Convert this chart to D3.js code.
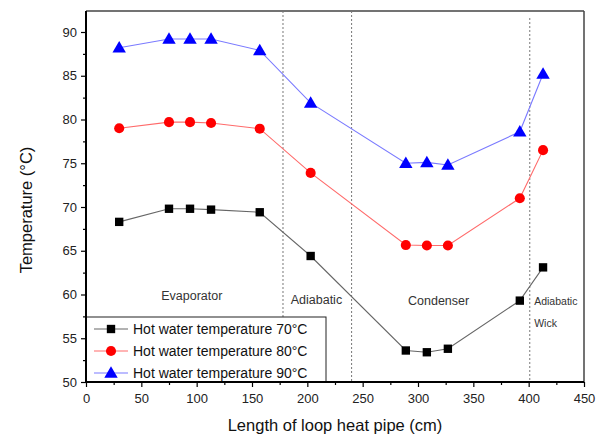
<!DOCTYPE html>
<html><head><meta charset="utf-8">
<script src="https://cdn.jsdelivr.net/npm/d3@7"></script>
<style>body{margin:0;background:#fff;} svg{display:block;font-family:"Liberation Sans",Arial,sans-serif;}</style>
</head><body>
<svg id="c" width="601" height="437"></svg>
<script>
const lengths = [30, 75, 94, 113, 157, 203, 289, 308, 327, 392, 413];
const temp70 = [68.3, 69.8, 69.8, 69.7, 69.4, 64.4, 53.6, 53.4, 53.8, 59.3, 63.1];
const temp80 = [79.0, 79.7, 79.7, 79.6, 78.95, 73.9, 65.65, 65.6, 65.6, 71.0, 76.5];
const temp90 = [88.2, 89.2, 89.2, 89.2, 87.9, 81.9, 75.0, 75.1, 74.8, 78.6, 85.2];
const seriesNames = ["Hot water temperature 70°C", "Hot water temperature 80°C", "Hot water temperature 90°C"];
const xTicks = [0, 50, 100, 150, 200, 250, 300, 350, 400, 450];
const yTicks = [50, 55, 60, 65, 70, 75, 80, 85, 90];
const dividers = [178, 240, 401];
const regionLabels = [
  {text: "Evaporator", x: 68, y: 59.4},
  {text: "Adiabatic", x: 185, y: 58.9},
  {text: "Condenser", x: 291, y: 58.85},
  {text: "Adiabatic", x: 405, y: 58.8},
  {text: "Wick", x: 405, y: 56.3}
];

const svg = d3.select("#c");
const L = 86, R = 584, T = 11, B = 382;
const x = d3.scaleLinear().domain([0, 450]).range([L, R]);
const y = d3.scaleLinear().domain([50, 92.4]).range([B, T]);

// frame top and right
svg.append("line").attr("x1", L).attr("x2", R).attr("y1", T).attr("y2", T).attr("stroke", "#444").attr("stroke-width", 1.5);
svg.append("line").attr("x1", R).attr("x2", R).attr("y1", T).attr("y2", B).attr("stroke", "#444").attr("stroke-width", 1.5);

// dividers
dividers.forEach((d, i) => {
  svg.append("line").attr("x1", x(d)).attr("x2", x(d))
    .attr("y1", i === 2 ? T + 7 : T).attr("y2", B)
    .attr("stroke", "#777").attr("stroke-width", 1).attr("stroke-dasharray", "2,2");
});

// region labels
regionLabels.forEach(r => {
  svg.append("text").attr("x", x(r.x)).attr("y", y(r.y))
    .attr("font-size", r.x > 400 ? 10.5 : 12.5).attr("fill", "#333").text(r.text);
});

// series
const series = [
  {vals: temp70, line: "#666", fill: "#000", shape: d3.symbolSquare, size: 70},
  {vals: temp80, line: "#ff6a6a", fill: "#ff0000", shape: d3.symbolCircle, size: 80},
  {vals: temp90, line: "#7a7aff", fill: "#0000ff", shape: d3.symbolTriangle, size: 78}
];
series.forEach(s => {
  const pts = lengths.map((l, i) => [l, s.vals[i]]);
  svg.append("path").datum(pts)
    .attr("d", d3.line().x(d => x(d[0])).y(d => y(d[1])))
    .attr("fill", "none").attr("stroke", s.line).attr("stroke-width", 1.1);
  svg.selectAll(null).data(pts).enter().append("path")
    .attr("transform", d => `translate(${x(d[0])},${y(d[1]) + (s.shape === d3.symbolTriangle ? 1 : 0)})`)
    .attr("d", d3.symbol().type(s.shape).size(s.size))
    .attr("fill", s.fill);
});

// legend
const lg = svg.append("g");
lg.append("rect").attr("x", L).attr("y", 317).attr("width", 326 - L).attr("height", B - 317)
  .attr("fill", "#fff").attr("stroke", "#222").attr("stroke-width", 1);
series.forEach((s, i) => {
  const yy = 329 + i * 22;
  lg.append("line").attr("x1", 94).attr("x2", 128).attr("y1", yy).attr("y2", yy).attr("stroke", s.line).attr("stroke-width", 1.1);
  lg.append("path").attr("transform", `translate(111,${yy + (s.shape === d3.symbolTriangle ? 1 : 0)})`)
    .attr("d", d3.symbol().type(s.shape).size(s.size)).attr("fill", s.fill);
  lg.append("text").attr("x", 133).attr("y", yy + 5).attr("font-size", 14).attr("fill", "#111").text(seriesNames[i]);
});

// axes
const xAxis = d3.axisBottom(x).tickValues(xTicks).tickSize(5).tickFormat(d3.format("d"));
const gx = svg.append("g").attr("transform", `translate(0,${B})`).call(xAxis);
const xMinor = d3.axisBottom(x).tickValues(xTicks.slice(0, -1).map(t => t + 25)).tickSize(3).tickFormat("");
svg.append("g").attr("transform", `translate(0,${B})`).call(xMinor).select(".domain").remove();
const yAxis = d3.axisLeft(y).tickValues(yTicks).tickSize(5);
const gy = svg.append("g").attr("transform", `translate(${L},0)`).call(yAxis);
const yMinor = d3.axisLeft(y).tickValues(yTicks.slice(0, -1).map(t => t + 2.5)).tickSize(3).tickFormat("");
svg.append("g").attr("transform", `translate(${L},0)`).call(yMinor).select(".domain").remove();
[gx, gy].forEach(g => {
  g.selectAll("text").attr("font-size", 13).attr("fill", "#222").attr("font-family", "Liberation Sans, Arial, sans-serif");
  g.select(".domain").attr("stroke", "#000").attr("stroke-width", 2);
});
gx.select(".domain").attr("d", `M${L},0H${R}`);
gy.select(".domain").attr("d", `M0,${B}V${T}`);
gx.selectAll("text").attr("dy", "1.0em");
gy.selectAll("text").attr("x", -9);
svg.selectAll(".tick line").attr("stroke", "#000").attr("stroke-width", 1.2);

// titles
svg.append("text").attr("x", (L + R) / 2).attr("y", 431).attr("text-anchor", "middle")
  .attr("font-size", 16.5).attr("fill", "#111").text("Length of loop heat pipe (cm)");
svg.append("text").attr("transform", "translate(32,210) rotate(-90)").attr("text-anchor", "middle")
  .attr("font-size", 16.5).attr("fill", "#111").text("Temperature (°C)");
</script>
</body></html>
